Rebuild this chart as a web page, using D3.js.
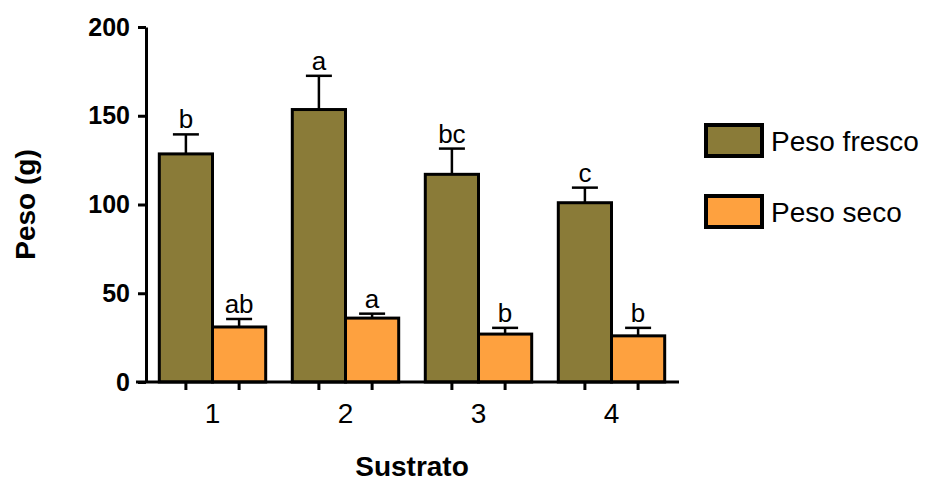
<!DOCTYPE html>
<html>
<head>
<meta charset="utf-8">
<script src="https://cdn.jsdelivr.net/npm/d3@7"></script>
<style>
  body { margin: 0; background: #fff; }
  text { font-family: "Liberation Sans", Arial, Helvetica, sans-serif; fill: #000; }
</style>
</head>
<body>
<script>
const categories = ["1", "2", "3", "4"];
const seriesNames = ["Peso fresco", "Peso seco"];
const pesoFresco = [128.5, 153.5, 117, 101];
const pesoFrescoErr = [11, 19, 14.5, 8.5];
const pesoSeco = [31, 36, 27, 26];
const pesoSecoErr = [4.5, 2.5, 3.5, 4.5];
const letrasFresco = ["b", "a", "bc", "c"];
const letrasSeco = ["ab", "a", "b", "b"];
const yTicks = [0, 50, 100, 150, 200];
const colors = ["#8a7b38", "#fea13f"];

const w = 928, h = 482;
const svg = d3.select("body").append("svg").attr("width", w).attr("height", h);

const y = d3.scaleLinear().domain([0, 200]).range([382, 27]);
const x0 = d3.scaleBand().domain(categories).range([146, 678]).paddingInner(0.2).paddingOuter(0.1);
const x1 = d3.scaleBand().domain(seriesNames).range([0, x0.bandwidth()]);

// table built from the arrays
const rows = [];
categories.forEach((c, i) => {
  rows.push({ cat: c, s: seriesNames[0], v: pesoFresco[i], e: pesoFrescoErr[i], l: letrasFresco[i], col: colors[0] });
  rows.push({ cat: c, s: seriesNames[1], v: pesoSeco[i], e: pesoSecoErr[i], l: letrasSeco[i], col: colors[1] });
});
const cx = d => x0(d.cat) + x1(d.s) + x1.bandwidth() / 2;

// error bars
const eb = svg.append("g").attr("stroke", "#000").attr("stroke-width", 2.5);
eb.selectAll("line.v").data(rows).enter().append("line")
  .attr("x1", cx).attr("x2", cx)
  .attr("y1", d => y(d.v)).attr("y2", d => y(d.v + d.e));
eb.selectAll("line.c").data(rows).enter().append("line")
  .attr("x1", d => cx(d) - 13).attr("x2", d => cx(d) + 13)
  .attr("y1", d => y(d.v + d.e)).attr("y2", d => y(d.v + d.e));

// bars
svg.append("g").selectAll("rect").data(rows).enter().append("rect")
  .attr("x", d => x0(d.cat) + x1(d.s))
  .attr("y", d => y(d.v))
  .attr("width", x1.bandwidth())
  .attr("height", d => y(0) - y(d.v))
  .attr("fill", d => d.col)
  .attr("stroke", "#000").attr("stroke-width", 3);

// letters
svg.append("g").selectAll("text").data(rows).enter().append("text")
  .attr("x", cx).attr("y", d => y(d.v + d.e) - 6)
  .attr("text-anchor", "middle").style("font-size", "26px")
  .text(d => d.l);

// y axis
const ya = svg.append("g").attr("transform", "translate(146,0)")
  .call(d3.axisLeft(y).tickValues(yTicks).tickSize(8).tickSizeOuter(0).tickPadding(8));
ya.selectAll("path, line").attr("stroke", "#000").attr("stroke-width", 3);
ya.selectAll("text").style("font-size", "25px").style("font-weight", "bold").attr("font-family", null);

// x axis
const xr = x0.range();
svg.append("line").attr("x1", xr[0] - 10).attr("x2", xr[1] + 1)
  .attr("y1", y(0)).attr("y2", y(0)).attr("stroke", "#000").attr("stroke-width", 3);
svg.append("g").selectAll("line").data(rows).enter().append("line")
  .attr("x1", cx).attr("x2", cx).attr("y1", y(0)).attr("y2", y(0) + 8)
  .attr("stroke", "#000").attr("stroke-width", 3);
const xa = svg.append("g").attr("transform", `translate(0,${y(0)})`)
  .call(d3.axisBottom(x0).tickSize(0).tickPadding(21));
xa.select(".domain").remove();
xa.selectAll("text").style("font-size", "28px").attr("font-family", null);

// axis titles
svg.append("text").attr("transform", `translate(35,${(y(0) + y(200)) / 2}) rotate(-90)`)
  .attr("text-anchor", "middle").style("font-size", "28px").style("font-weight", "bold")
  .text("Peso (g)");
svg.append("text").attr("x", (xr[0] + xr[1]) / 2).attr("y", 476)
  .attr("text-anchor", "middle").style("font-size", "28px").style("font-weight", "bold")
  .text("Sustrato");

// legend
const lg = svg.append("g").selectAll("g").data(seriesNames).enter().append("g")
  .attr("transform", (d, i) => `translate(706,${125 + i * 71})`);
lg.append("rect").attr("width", 56).attr("height", 31)
  .attr("fill", (d, i) => colors[i]).attr("stroke", "#000").attr("stroke-width", 4);
lg.append("text").attr("x", 65).attr("y", 26).style("font-size", "28px").text(d => d);
</script>
</body>
</html>
